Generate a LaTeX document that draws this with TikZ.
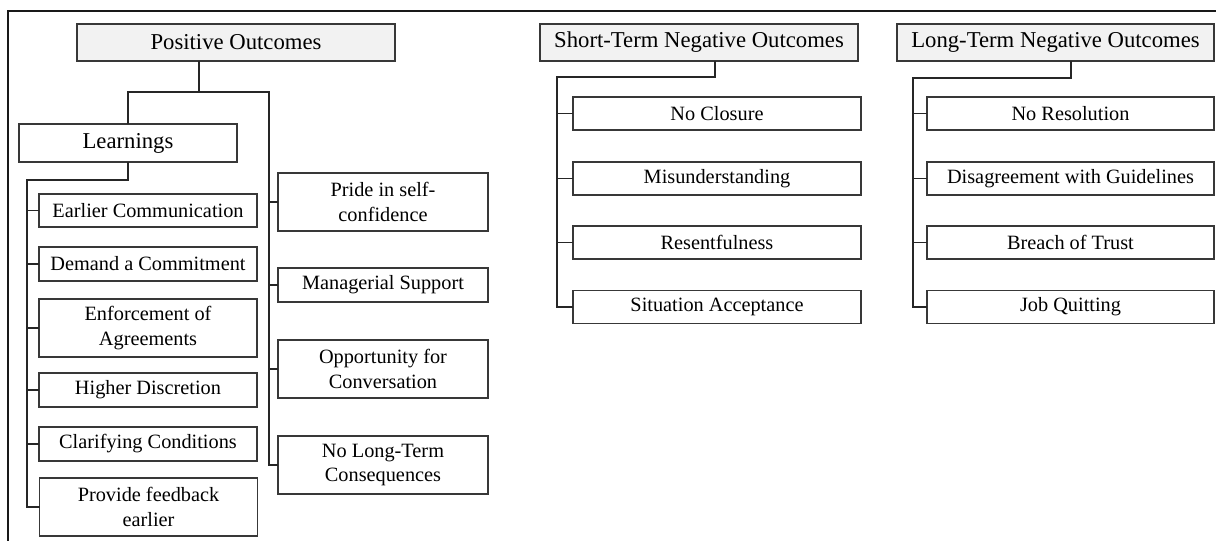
\documentclass[tikz,border=0pt]{standalone}
\usepackage{fontspec}
\setmainfont{Liberation Serif}
\tikzset{
  every node/.style={inner sep=0pt, outer sep=0pt},
  box/.style={draw=black!78, line width=1.2pt, fill=white, align=center,
              font=\fontsize{20.3}{24.5}\selectfont},
  bigtext/.style={font=\fontsize{22.7}{26}\selectfont},
  head/.style={box, bigtext, fill=black!5},
  link/.style={draw=black!85, line width=1.4pt},
  frameline/.style={draw=black!90, line width=1.3pt},
}
\begin{document}
\begin{tikzpicture}[x=1pt,y=-1pt]
\useasboundingbox (0,0) rectangle (1216,541);
% outer frame
\draw[frameline] (1230,11) -- (8,11) -- (8,560);

% ---------- Positive outcomes ----------
\node[head, minimum width=318, minimum height=37] (pos) at (236,42.5) {Positive Outcomes};
\node[box, bigtext, minimum width=218, minimum height=38] (learn) at (128,143) {Learnings};

\begin{scope}[every node/.append style={minimum width=218}]
  \node[box, minimum height=33] (ec)  at (148,210.5) {Earlier Communication};
  \node[box, minimum height=34] (dc)  at (148,264)   {Demand a Commitment};
  \node[box, minimum height=58] (ea)  at (148,328)   {Enforcement of\\Agreements};
  \node[box, minimum height=34] (hd)  at (148,390)   {Higher Discretion};
  \node[box, minimum height=34] (cc)  at (148,444)   {Clarifying Conditions};
  \node[box, minimum height=58] (pf)  at (148.5,507) {Provide feedback\\earlier};
\end{scope}

\begin{scope}[every node/.append style={minimum width=210}]
  \node[box, minimum height=58] (pride) at (383,202)   {Pride in self-\\confidence};
  \node[box, minimum height=34] (msup)  at (383,285)   {Managerial Support};
  \node[box, minimum height=58] (opp)   at (383,369)   {Opportunity for\\Conversation};
  \node[box, minimum height=58] (nlt)   at (383,465)   {No Long-Term\\Consequences};
\end{scope}

\coordinate (pJ) at (199,92);
\coordinate (pR) at (269,92);
\draw[link] ([xshift=-37pt]pos.south) -- (pJ);
\draw[link] (learn.north) |- (pR) -- (pR |- nlt.west) -- (nlt.west);
\foreach \n in {pride,msup,opp} \draw[link] (pR |- \n.west) -- (\n.west);

\coordinate (lJ) at (27,180);
\draw[link] (learn.south) |- (lJ) -- (lJ |- pf.west) -- (pf.west);
\foreach \n in {ec,dc,ea,hd,cc} \draw[link] (lJ |- \n.west) -- (\n.west);

% ---------- Short-term negative outcomes ----------
\node[head, minimum width=318, minimum height=37] (sh) at (699,42.5) {Short-Term Negative Outcomes};
\begin{scope}[every node/.append style={minimum width=288, minimum height=33}]
  \node[box] (nc)  at (717,113.5) {No Closure};
  \node[box] (mis) at (717,178.5) {Misunderstanding};
  \node[box] (res) at (717,242.5) {Resentfulness};
  \node[box] (sa)  at (717,307)   {Situation Acceptance};
\end{scope}
\coordinate (sJ) at (557,77);
\draw[link] ([xshift=16pt]sh.south) |- (sJ) -- (sJ |- sa.west) -- (sa.west);
\foreach \n in {nc,mis,res} \draw[link] (sJ |- \n.west) -- (\n.west);

% ---------- Long-term negative outcomes ----------
\node[head, minimum width=317, minimum height=37] (lg) at (1055.5,42.5) {Long-Term Negative Outcomes};
\begin{scope}[every node/.append style={minimum width=287, minimum height=33}]
  \node[box] (nr)  at (1070.5,113.5) {No Resolution};
  \node[box] (dg)  at (1070.5,178.5) {Disagreement with Guidelines};
  \node[box] (bt)  at (1070.5,242.5) {Breach of Trust};
  \node[box] (jq)  at (1070.5,307)   {Job Quitting};
\end{scope}
\coordinate (gJ) at (913,78);
\draw[link] ([xshift=15.5pt]lg.south) |- (gJ) -- (gJ |- jq.west) -- (jq.west);
\foreach \n in {nr,dg,bt} \draw[link] (gJ |- \n.west) -- (\n.west);
\end{tikzpicture}
\end{document}
